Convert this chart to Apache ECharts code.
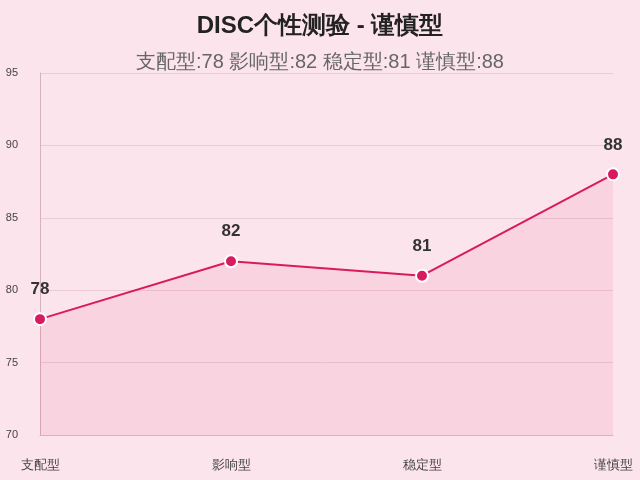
<!DOCTYPE html>
<html>
<head>
<meta charset="utf-8">
<script src="https://cdn.jsdelivr.net/npm/echarts@6/dist/echarts.min.js"></script>
<style>
html,body{margin:0;padding:0;background:#fce4ec;}
#main{width:640px;height:480px;}
</style>
</head>
<body>
<div id="main"></div>
<script>
const categories = ['支配型', '影响型', '稳定型', '谨慎型'];
const values = [78, 82, 81, 88];
const titleText = 'DISC个性测验 - 谨慎型';
const subText = categories.map((c, i) => c + ':' + values[i]).join(' ');

const chart = echarts.init(document.getElementById('main'));
chart.setOption({
  backgroundColor: '#fce4ec',
  title: {
    text: titleText,
    subtext: subText,
    left: 'center',
    top: 9,
    itemGap: 14,
    textStyle: { fontSize: 24, fontWeight: 'bold', color: '#222' },
    subtextStyle: { fontSize: 20, color: '#666' }
  },
  grid: { left: 40, right: 27, top: 73, bottom: 45 },
  xAxis: {
    type: 'category',
    data: categories,
    boundaryGap: false,
    axisLine: { lineStyle: { color: '#d4b2be' } },
    axisTick: { show: false },
    axisLabel: { color: '#444', fontSize: 13, margin: 24 }
  },
  yAxis: {
    type: 'value',
    min: 70,
    max: 95,
    interval: 5,
    axisLine: { show: true, lineStyle: { color: '#d4b2be' } },
    axisTick: { show: false },
    axisLabel: { color: '#444', fontSize: 11, margin: 22 },
    splitLine: { lineStyle: { color: '#eccad6' } }
  },
  series: [{
    type: 'line',
    data: values,
    symbol: 'circle',
    symbolSize: 12,
    lineStyle: { color: '#d81b60', width: 2 },
    itemStyle: { color: '#d81b60', borderColor: '#fff', borderWidth: 2 },
    areaStyle: { color: 'rgba(236,64,122,0.14)' },
    label: {
      show: true,
      position: 'top',
      distance: 14,
      fontSize: 17,
      fontWeight: 'bold',
      color: '#333'
    }
  }]
});
</script>
</body>
</html>
